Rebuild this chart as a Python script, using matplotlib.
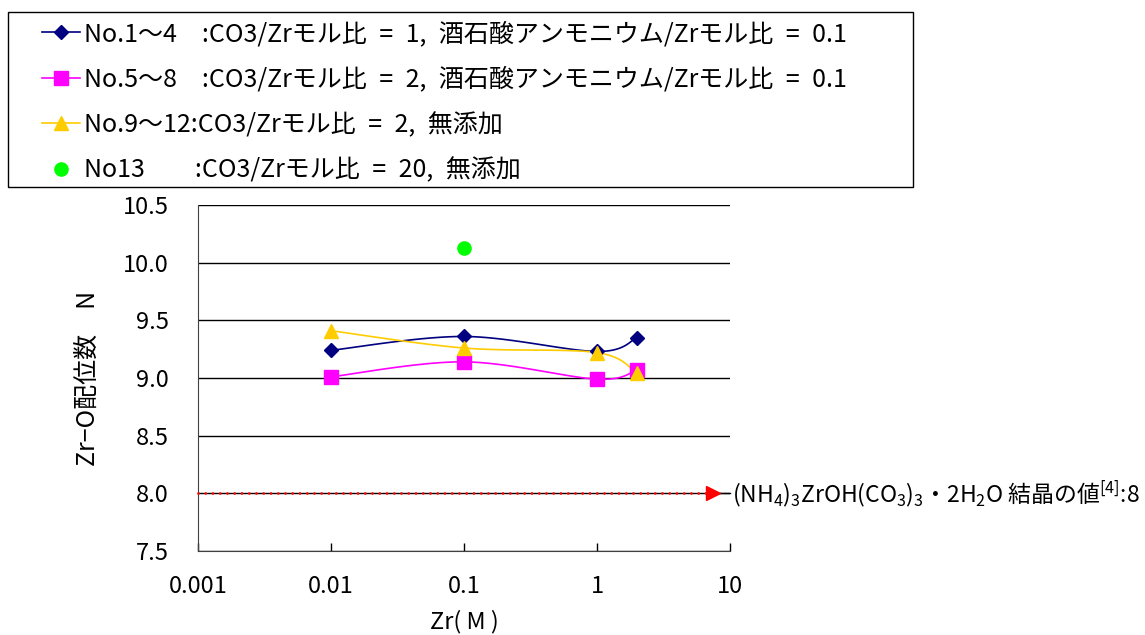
import numpy as np
import matplotlib
matplotlib.use('Agg')
import matplotlib.pyplot as plt
from matplotlib.patches import Rectangle
from matplotlib.ticker import FixedLocator, FixedFormatter, FormatStrFormatter, NullLocator

plt.rcParams['font.family'] = ['Noto Sans CJK JP', 'DejaVu Sans']
plt.rcParams['mathtext.fontset'] = 'custom'
plt.rcParams['mathtext.rm'] = 'Noto Sans CJK JP'
plt.rcParams['mathtext.it'] = 'Noto Sans CJK JP'
plt.rcParams['mathtext.bf'] = 'Noto Sans CJK JP'

# Zr濃度 (M)
zr_conc = [0.01, 0.1, 1, 2]
# Zr-O配位数
n_no1_4 = [9.24, 9.36, 9.23, 9.35]
n_no5_8 = [9.01, 9.14, 8.99, 9.07]
n_no9_12 = [9.41, 9.26, 9.22, 9.04]
zr_no13 = [0.1]
n_no13 = [10.13]
# 結晶の値
ref_N = 8.0

sp = '\u2002'
labels = ['No.1～4　:CO3/Zrモル比' + sp + '=' + sp + '1,' + sp + '酒石酸アンモニウム/Zrモル比' + sp + '=' + sp + '0.1',
          'No.5～8　:CO3/Zrモル比' + sp + '=' + sp + '2,' + sp + '酒石酸アンモニウム/Zrモル比' + sp + '=' + sp + '0.1',
          'No.9～12:CO3/Zrモル比' + sp + '=' + sp + '2,' + sp + '無添加',
          'No13　' + sp * 2 + ':CO3/Zrモル比' + sp + '=' + sp + '20,' + sp + '無添加']
xticks = [0.001, 0.01, 0.1, 1, 10]
xticklabels = ['0.001', '0.01', '0.1', '1', '10']
yticks = [7.5, 8.0, 8.5, 9.0, 9.5, 10.0, 10.5]


def smooth(xs, ys, n=40):
    # Bezier (Excel風スムージング) をlog軸上で
    p = np.column_stack([np.log10(xs), ys])
    P = np.vstack([p[0], p, p[-1]])
    t = np.linspace(0, 1, n)[:, None]
    out = []
    for i in range(1, len(P) - 2):
        p0, p1, p2, p3 = P[i - 1], P[i], P[i + 1], P[i + 2]
        c1 = p1 + (p2 - p0) / 6
        c2 = p2 - (p3 - p1) / 6
        seg = (1 - t)**3 * p1 + 3 * (1 - t)**2 * t * c1 + 3 * (1 - t) * t**2 * c2 + t**3 * p2
        out.append(seg)
    out = np.vstack(out)
    return 10**out[:, 0], out[:, 1]


W, H = 1145, 635
fig = plt.figure(figsize=(W / 100, H / 100), dpi=100)
ax = fig.add_axes([198 / W, 1 - 551 / H, 532 / W, 346 / H])

series = [(n_no1_4, '#000080', 'D', 7.5),
          (n_no5_8, '#FF00FF', 's', 9.5),
          (n_no9_12, '#FFCC00', '^', 10.5)]
handles = []
for ys, c, m, ms in series:
    sx, sy = smooth(zr_conc, ys)
    ax.plot(sx, sy, color=c, lw=1.2, zorder=3)
    ax.plot(zr_conc, ys, ls='none', marker=m, ms=ms, color=c, mec=c, zorder=4)
    handles.append(plt.Line2D([], [], color=c, lw=1.2, marker=m, ms=ms, mec=c))
ax.plot(zr_no13, n_no13, ls='none', marker='o', ms=9.5, color='#00FF00', mec='#00FF00', zorder=4)
handles.append(plt.Line2D([], [], ls='none', marker='o', ms=9.5, color='#00FF00', mec='#00FF00'))

# 結晶の値 (矢印)
tr = ax.get_yaxis_transform()
ax.plot([0, 0.955], [ref_N, ref_N], transform=tr, color='#FF0000', lw=2.0,
        ls=(0, (0.01, 2.6)), dash_capstyle='round', zorder=5, clip_on=False)
ax.plot([0.968], [ref_N], transform=tr, marker='>', ms=10, color='#FF0000', mec='#FF0000',
        ls='none', zorder=5, clip_on=False)
ax.plot([0.981, 1.0], [ref_N, ref_N], transform=tr, color='black', lw=1, clip_on=False)
ax.text(1.004, ref_N, r'(NH$_4$)$_3$ZrOH(CO$_3$)$_3$・2H$_2$O 結晶の値$^{[4]}$:8',
        transform=tr, ha='left', va='center', fontsize=16.5)

ax.set_xscale('log')
ax.set_xlim(0.001, 10)
ax.set_ylim(7.5, 10.5)
ax.xaxis.set_major_locator(FixedLocator(xticks))
ax.xaxis.set_major_formatter(FixedFormatter(xticklabels))
ax.xaxis.set_minor_locator(NullLocator())
ax.set_yticks(yticks)
ax.yaxis.set_major_formatter(FormatStrFormatter('%.1f'))
ax.tick_params(axis='x', direction='in', length=6, width=1, pad=17, labelsize=17)
ax.tick_params(axis='y', length=0, pad=21, labelsize=17)
ax.grid(axis='y', color='black', lw=1)
for s in ['top', 'right']:
    ax.spines[s].set_visible(False)
ax.spines['left'].set_color('#404040')
ax.spines['bottom'].set_color('#404040')

ax.set_xlabel('Zr( M )', fontsize=17, labelpad=9)
ax.set_ylabel('Zr−O配位数　N', fontsize=18, labelpad=16)

# 凡例
fig.add_artist(Rectangle((8 / W, 1 - 187 / H), 905 / W, 175 / H, transform=fig.transFigure,
                         fill=False, edgecolor='black', lw=1))
fig.legend(handles, labels, loc='upper left', bbox_to_anchor=(42 / W, 1 - 21 / H),
           frameon=False, borderpad=0, borderaxespad=0, handlelength=1.5,
           handletextpad=0.2, labelspacing=0.78, fontsize=18)

fig.savefig('out.png', dpi=100)
